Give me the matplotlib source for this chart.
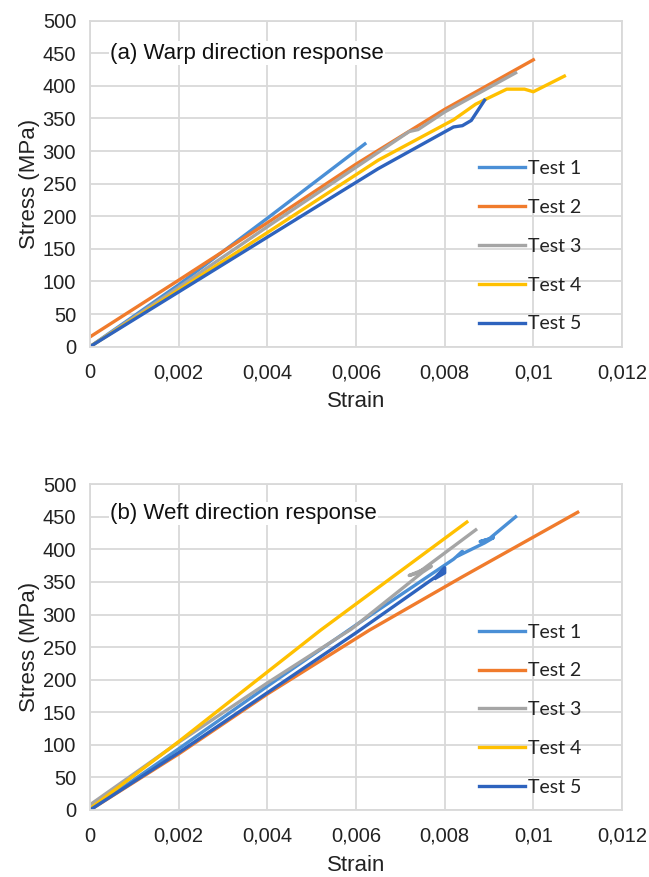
import numpy as np
import matplotlib.pyplot as plt

# colours (Excel default palette)
colors = ['#4A8FD6', '#F07B2C', '#A5A5A5', '#FFC000', '#2E63BE']
labels = ['Test 1', 'Test 2', 'Test 3', 'Test 4', 'Test 5']

# (a) warp direction - strain / stress (MPa)
warp1_x = [0, 0.002, 0.004, 0.0062]
warp1_y = [0, 95, 197, 311]
warp2_x = [0, 0.002, 0.004, 0.006, 0.008, 0.010]
warp2_y = [15, 102, 190, 280, 364, 440]
warp3_x = [0, 0.002, 0.004, 0.0065, 0.0072, 0.0074, 0.008, 0.0096]
warp3_y = [0, 91, 184, 298, 330, 333, 360, 420]
warp4_x = [0, 0.002, 0.004, 0.0065, 0.0082, 0.0087, 0.0094, 0.0098, 0.0100, 0.0107]
warp4_y = [0, 87, 175, 286, 348, 372, 395, 395, 391, 415]
warp5_x = [0, 0.002, 0.004, 0.0065, 0.0082, 0.0084, 0.0086, 0.0089]
warp5_y = [0, 84, 168, 273, 337, 339, 347, 378]

# (b) weft direction
weft1_x = [0, 0.002, 0.004, 0.006, 0.0082, 0.0084, 0.0083, 0.0089, 0.0091, 0.0088, 0.0090, 0.0096]
weft1_y = [0, 94, 190, 284, 385, 397, 390, 410, 418, 412, 416, 450]
weft2_x = [0, 0.002, 0.004, 0.0063, 0.0084, 0.011]
weft2_y = [0, 86, 178, 276, 358, 457]
weft3_x = [0, 0.002, 0.004, 0.0059, 0.0075, 0.0077, 0.0072, 0.0074, 0.0087]
weft3_y = [8, 104, 195, 278, 365, 374, 360, 364, 430]
weft4_x = [0, 0.002, 0.0052, 0.0085]
weft4_y = [2, 105, 276, 442]
weft5_x = [0, 0.002, 0.004, 0.006, 0.0078, 0.0080, 0.0080, 0.0078]
weft5_y = [0, 88, 180, 272, 358, 372, 364, 356]

warp = [(warp1_x, warp1_y), (warp2_x, warp2_y), (warp3_x, warp3_y),
        (warp4_x, warp4_y), (warp5_x, warp5_y)]
weft = [(weft1_x, weft1_y), (weft2_x, weft2_y), (weft3_x, weft3_y),
        (weft4_x, weft4_y), (weft5_x, weft5_y)]

xticks = [0, 0.002, 0.004, 0.006, 0.008, 0.010, 0.012]
xticklabels = ['0', '0,002', '0,004', '0,006', '0,008', '0,01', '0,012']
yticks = list(range(0, 501, 50))

fig = plt.figure(figsize=(6.49, 8.77), dpi=100)
ax1 = fig.add_axes([0.1387, 0.6047, 0.8197, 0.3717])
ax2 = fig.add_axes([0.1387, 0.0764, 0.8197, 0.3714])

grid_c = '#D9D9D9'
tick_font = 'Liberation Sans'

for ax, data, title, ty in [(ax1, warp, '(a) Warp direction response', 450),
                            (ax2, weft, '(b) Weft direction response', 455)]:
    for (x, y), c, lab in zip(data, colors, labels):
        ax.plot(x, y, color=c, lw=2.4, label=lab, solid_joinstyle='round')
    ax.set_xlim(0, 0.012)
    ax.set_ylim(0, 500)
    ax.set_xticks(xticks)
    ax.set_xticklabels(xticklabels)
    ax.set_yticks(yticks)
    ax.grid(True, color=grid_c, lw=1.3)
    ax.set_axisbelow(True)
    for s in ax.spines.values():
        s.set_color(grid_c)
        s.set_linewidth(1.3)
    ax.tick_params(axis='x', length=0, pad=12, labelsize=14.5, labelcolor='#222222')
    ax.tick_params(axis='y', length=0, pad=10, labelsize=14.5, labelcolor='#222222')
    for t in ax.get_xticklabels() + ax.get_yticklabels():
        t.set_fontfamily(tick_font)
    ax.set_xlabel('Strain', fontsize=16, family=tick_font, color='#222222', labelpad=6.5)
    ax.set_ylabel('Stress (MPa)', fontsize=16, family=tick_font, color='#222222', labelpad=2)
    ax.text(0.00045, ty, title, fontsize=16, family=tick_font, color='#111111',
            va='center', ha='left',
            bbox=dict(facecolor='white', edgecolor='none', pad=1))
    leg = ax.legend(loc='upper left', bbox_to_anchor=(0.731, 0.572), frameon=False,
                    prop={'family': 'Lato', 'size': 14}, handlelength=2.37,
                    handletextpad=0.15, labelspacing=1.12, borderpad=0, borderaxespad=0)
    for t in leg.get_texts():
        t.set_color('#222222')

fig.savefig('out.png', dpi=100)
